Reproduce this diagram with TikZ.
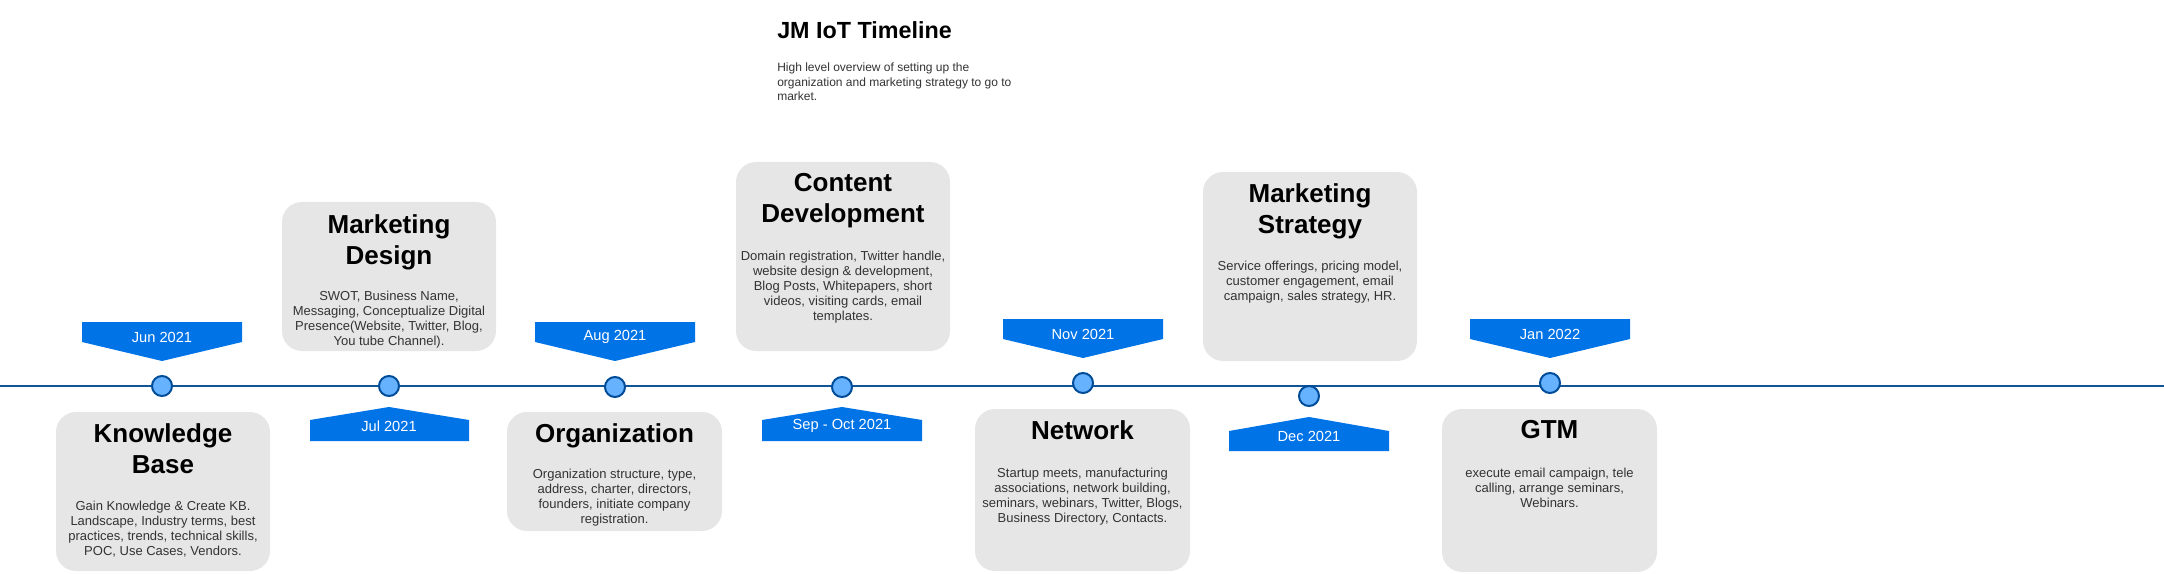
\documentclass[tikz,border=0pt]{standalone}
\usepackage{fontspec}
\setmainfont{Liberation Sans}
\definecolor{cardgray}{HTML}{E6E6E6}
\definecolor{flagblue}{HTML}{0073E6}
\definecolor{dotfill}{HTML}{66B2FF}
\definecolor{dotline}{HTML}{004C99}
\definecolor{axisblue}{HTML}{10549A}
\definecolor{bodygray}{HTML}{333333}

\begin{document}
\begin{tikzpicture}[x=0.75pt,y=-0.75pt,
    card/.style={fill=cardgray, rounded corners=15pt},
    head/.style={anchor=north, align=center, inner sep=0pt, font=\fontsize{19.5}{23.25}\selectfont\bfseries},
    body/.style={anchor=north, align=center, inner sep=0pt, text=bodygray, font=\fontsize{9.75}{11.25}\selectfont},
    flag/.style={fill=flagblue},
    date/.style={inner sep=0pt, text=white, font=\fontsize{11}{13}\selectfont},
    dot/.style={circle, draw=dotline, fill=dotfill, line width=1.5pt, minimum size=15pt, inner sep=0pt}]
    \useasboundingbox (0,0) rectangle (2164,574);
    % title
    \node[anchor=base west, inner sep=0pt, font=\fontsize{17.5}{21}\selectfont\bfseries] (title) at (777,39) {JM IoT Timeline};
    \node[anchor=north west, align=left, inner sep=0pt, text=bodygray, font=\fontsize{9}{10.7}\selectfont] (intro) at (777,63)
        {High level overview of setting up the\\organization and marketing strategy to go to\\market.};
    % cards
    \fill[card] (56,412) rectangle (270,571);
    \node[head] (kbhead) at (163,423.4) {Knowledge\\Base};
    \node[body] (kbbody) at (163,500.7) {Gain Knowledge \& Create KB.\\Landscape, Industry terms, best\\practices, trends, technical skills,\\POC, Use Cases, Vendors.};
    \fill[card] (282,202) rectangle (496,351);
    \node[head] (mdhead) at (389,214.4) {Marketing\\Design};
    \node[body] (mdbody) at (389,290.7) {SWOT, Business Name,\\Messaging, Conceptualize Digital\\Presence(Website, Twitter, Blog,\\You tube Channel).};
    \fill[card] (507,412) rectangle (722,531);
    \node[head] (orghead) at (614.5,423.4) {Organization};
    \node[body] (orgbody) at (614.5,468.7) {Organization structure, type,\\address, charter, directors,\\founders, initiate company\\registration.};
    \fill[card] (736,162) rectangle (950,351);
    \node[head] (cdhead) at (843,173.4) {Content\\Development};
    \node[body] (cdbody) at (843,250.7) {Domain registration, Twitter handle,\\website design \& development,\\Blog Posts, Whitepapers, short\\videos, visiting cards, email\\templates.};
    \fill[card] (975,409) rectangle (1190,571);
    \node[head] (nethead) at (1082.5,420.4) {Network};
    \node[body] (netbody) at (1082.5,467.7) {Startup meets, manufacturing\\associations, network building,\\seminars, webinars, Twitter, Blogs,\\Business Directory, Contacts.};
    \fill[card] (1203,172) rectangle (1417,361);
    \node[head] (mshead) at (1310,183.4) {Marketing\\Strategy};
    \node[body] (msbody) at (1310,260.7) {Service offerings, pricing model,\\customer engagement, email\\campaign, sales strategy, HR.};
    \fill[card] (1442,409) rectangle (1657,572);
    \node[head] (gtmhead) at (1549.5,420.4) {GTM};
    \node[body] (gtmbody) at (1549.5,467.7) {execute email campaign, tele\\calling, arrange seminars,\\Webinars.};
    % date flags
    \fill[flag] (82,322) -- (242,322) -- (242,342) -- (162,361) -- (82,342) -- cycle;
    \node[date] (jun) at (162,337) {Jun 2021};
    \fill[flag] (310,441) -- (310,420) -- (389,407) -- (469,420) -- (469,441) -- cycle;
    \node[date] (jul) at (389,426) {Jul 2021};
    \fill[flag] (535,322) -- (695,322) -- (695,342) -- (615,361) -- (535,342) -- cycle;
    \node[date] (aug) at (615,337) {Aug 2021};
    \fill[flag] (762,441) -- (762,420) -- (842,407) -- (922,420) -- (922,441) -- cycle;
    \node[date] (sepoct) at (842,426) {Sep - Oct 2021};
    \fill[flag] (1003,319) -- (1163,319) -- (1163,339) -- (1083,358) -- (1003,339) -- cycle;
    \node[date] (nov) at (1083,334) {Nov 2021};
    \fill[flag] (1229,451) -- (1229,431) -- (1309,417) -- (1389,431) -- (1389,451) -- cycle;
    \node[date] (dec) at (1309,436) {Dec 2021};
    \fill[flag] (1470,319) -- (1630,319) -- (1630,339) -- (1550,358) -- (1470,339) -- cycle;
    \node[date] (jan) at (1550,334) {Jan 2022};
    % time line
    \coordinate (start) at (0,386);
    \coordinate (end) at (2164,386);
    \draw[axisblue, line width=1.5pt] (start) -- (end);
    \node[dot] (djun) at (162,386) {};
    \node[dot] (djul) at (389,386) {};
    \node[dot] (daug) at (615,387) {};
    \node[dot] (dsep) at (842,387) {};
    \node[dot] (dnov) at (1083,383) {};
    \node[dot] (ddec) at (1309,396) {};
    \node[dot] (djan) at (1550,383) {};
\end{tikzpicture}
\end{document}
